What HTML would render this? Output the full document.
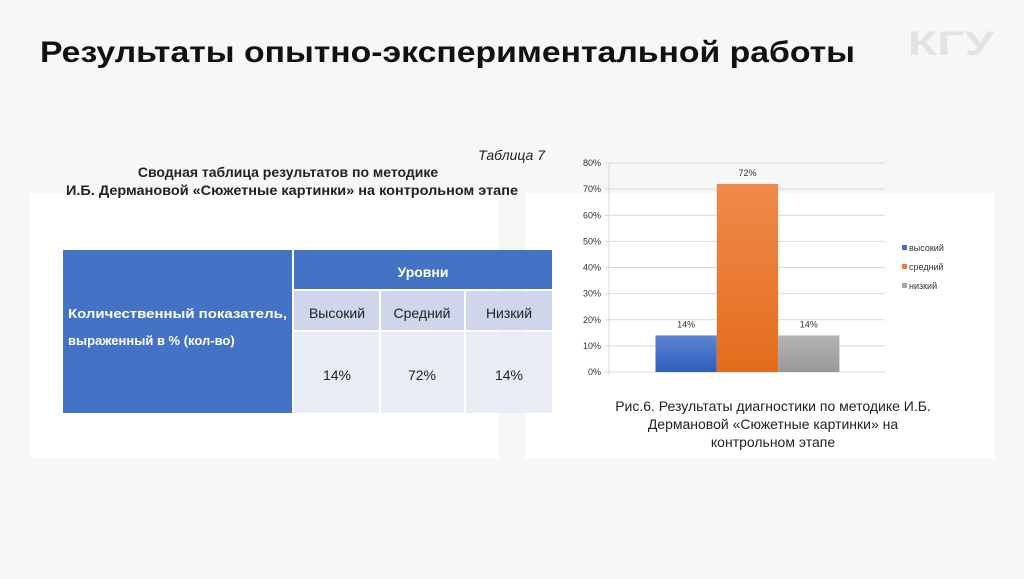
<!DOCTYPE html>
<html><head><meta charset="utf-8"><style>
body{margin:0;width:1024px;height:574px;background:#f7f7f7;overflow:hidden;font-family:"Liberation Sans","DejaVu Sans",sans-serif}
</style></head><body>
<svg width="1024" height="574" xmlns="http://www.w3.org/2000/svg" font-family="Liberation Sans, DejaVu Sans, sans-serif">
<rect x="0" y="0" width="1024" height="574" fill="#f7f7f7"/>
<text x="40" y="62" font-size="30" font-weight="bold" fill="#111" textLength="815" lengthAdjust="spacingAndGlyphs">Результаты опытно-экспериментальной работы</text>
<text x="908" y="55" font-size="34" font-weight="bold" fill="#e3e3e3" textLength="86" lengthAdjust="spacingAndGlyphs">КГУ</text>
<rect x="30" y="193" width="469" height="265" fill="#fff"/>
<rect x="525" y="193" width="470" height="265" fill="#fff"/>
<text x="545" y="160" font-size="14" font-style="italic" text-anchor="end" fill="#222">Таблица 7</text>
<text x="288" y="177" font-size="14" font-weight="bold" text-anchor="middle" fill="#222">Сводная таблица результатов по  методике</text>
<text x="292" y="195" font-size="14" font-weight="bold" text-anchor="middle" fill="#222" textLength="452" lengthAdjust="spacingAndGlyphs">И.Б. Дермановой «Сюжетные картинки» на контрольном этапе</text>
<g>
<rect x="63" y="250" width="229" height="163" fill="#4472c4"/>
<rect x="294" y="250" width="258" height="39" fill="#4472c4"/>
<rect x="294" y="291" width="85" height="39" fill="#cfd5ea"/>
<rect x="381" y="291" width="83" height="39" fill="#cfd5ea"/>
<rect x="466" y="291" width="86" height="39" fill="#cfd5ea"/>
<rect x="294" y="332" width="85" height="81" fill="#e9ebf5"/>
<rect x="381" y="332" width="83" height="81" fill="#e9ebf5"/>
<rect x="466" y="332" width="86" height="81" fill="#e9ebf5"/>
<text x="68" y="318" font-size="13" font-weight="bold" fill="#fff" textLength="219" lengthAdjust="spacingAndGlyphs">Количественный  показатель,</text>
<text x="68" y="345" font-size="13" font-weight="bold" fill="#fff">выраженный в % (кол-во)</text>
<text x="423" y="277" font-size="14" font-weight="bold" fill="#fff" text-anchor="middle">Уровни</text>
<text x="337" y="318" font-size="14" fill="#222" text-anchor="middle">Высокий</text>
<text x="422" y="318" font-size="14" fill="#222" text-anchor="middle">Средний</text>
<text x="509" y="318" font-size="14" fill="#222" text-anchor="middle">Низкий</text>
<text x="337" y="380" font-size="14" fill="#222" text-anchor="middle">14%</text>
<text x="422" y="380" font-size="14" fill="#222" text-anchor="middle">72%</text>
<text x="509" y="380" font-size="14" fill="#222" text-anchor="middle">14%</text>
</g>
<defs>
<linearGradient id="gb" x1="0" y1="0" x2="0" y2="1"><stop offset="0" stop-color="#5b85d0"/><stop offset="1" stop-color="#2f5fbd"/></linearGradient>
<linearGradient id="go" x1="0" y1="0" x2="0" y2="1"><stop offset="0" stop-color="#f08a4b"/><stop offset="1" stop-color="#e46c1c"/></linearGradient>
<linearGradient id="gg" x1="0" y1="0" x2="0" y2="1"><stop offset="0" stop-color="#b4b4b4"/><stop offset="1" stop-color="#989898"/></linearGradient>
</defs>
<g id="chart"></g>
<text x="773" y="411" font-size="14" fill="#222" text-anchor="middle">Рис.6. Результаты диагностики по методике И.Б.</text>
<text x="773" y="429" font-size="14" fill="#222" text-anchor="middle">Дермановой «Сюжетные картинки» на</text>
<text x="773" y="447" font-size="14" fill="#222" text-anchor="middle">контрольном этапе</text>
</svg>
<script>
const categories = ['высокий','средний','низкий'];
const values = [14, 72, 14];
const ticks = [0,10,20,30,40,50,60,70,80];
const colors = ['url(#gb)','url(#go)','url(#gg)'];
const legendColors = ['#4472c4','#ed7d31','#a5a5a5'];
const NS='http://www.w3.org/2000/svg';
const g=document.getElementById('chart');
const x0=609,x1=885,yBase=372,yTop=163,vMax=80;
const y=v=>yBase-(v/vMax)*(yBase-yTop);
const barW=61.3, groupStart=655.5;
const xb=i=>groupStart+i*barW;
function mk(t,a){const e=document.createElementNS(NS,t);for(const k in a)e.setAttribute(k,a[k]);g.appendChild(e);return e;}
ticks.forEach(t=>{
 const l=mk('line',{x1:x0-4,x2:x1,y1:y(t),y2:y(t),stroke:'#d9d9d9','stroke-width':1});
 
 
 const tx=mk('text',{x:x0-8,y:y(t)+3,'font-size':9,'text-anchor':'end',fill:'#333'});
 tx.textContent=t+'%';
 
 
});
const ax=mk('line',{x1:x0,x2:x0,y1:yTop,y2:yBase+3,stroke:'#d9d9d9'});


values.forEach((v,i)=>{
 const r=mk('rect',{x:xb(i),y:y(v),width:barW,height:yBase-y(v),fill:colors[i]});
 
 
 const t=mk('text',{x:xb(i)+barW/2,y:y(v)-8,'font-size':9,'text-anchor':'middle',fill:'#333'});
 t.textContent=v+'%';
 
 
});
categories.forEach((c,i)=>{
 const ly=249+i*19;
 const s=mk('rect',{x:902,y:ly-4,width:5,height:5,fill:legendColors[i]});
 
 
 const t=mk('text',{x:909,y:ly+2,'font-size':9,fill:'#333'});
 t.textContent=c;
 
 
});
</script>
</body></html>
